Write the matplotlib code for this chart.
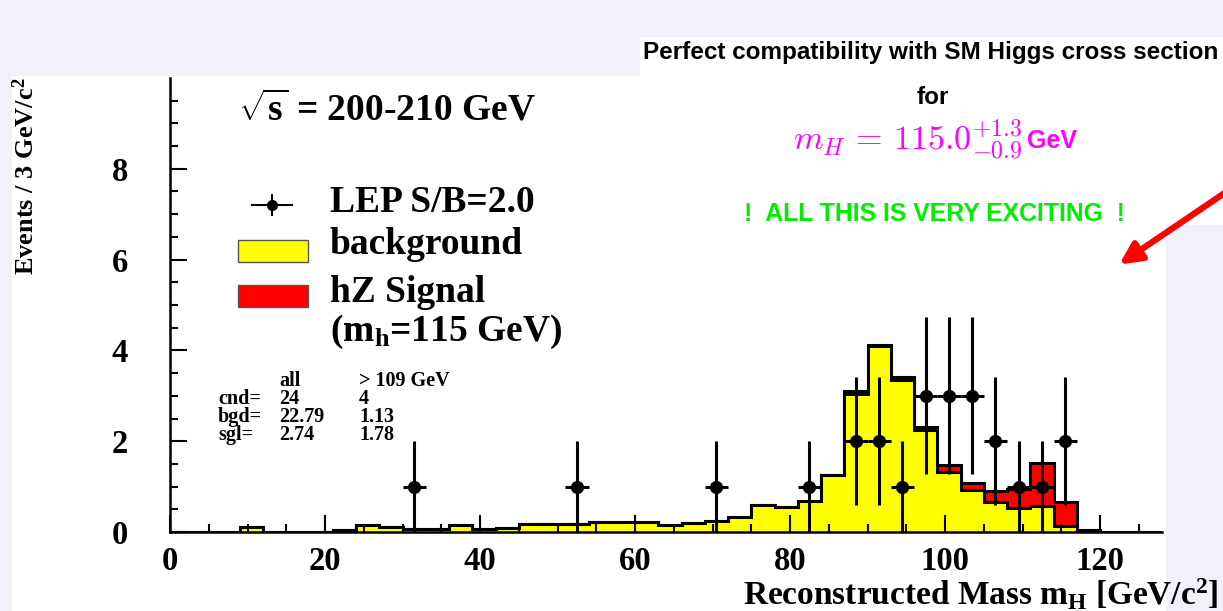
import numpy as np
import matplotlib
matplotlib.use("Agg")
import matplotlib.pyplot as plt
from matplotlib.patches import Rectangle, FancyArrowPatch
from matplotlib.lines import Line2D

# histogram binning: 3 GeV bins
bin_edges = np.arange(0, 130, 3)

# background expectation per bin
background = [0.00, 0.00, 0.00, 0.10, 0.00, 0.00, 0.00, 0.04, 0.15, 0.10,
              0.06, 0.07, 0.16, 0.07, 0.09, 0.18, 0.18, 0.18, 0.21, 0.21,
              0.21, 0.16, 0.20, 0.24, 0.33, 0.60, 0.55, 0.69, 1.25, 3.05,
              4.10, 3.35, 2.24, 1.33, 0.92, 0.67, 0.52, 0.57, 0.13, 0.02,
              0.01, 0.01, 0.01]

# hZ signal (m_h = 115 GeV) per bin
signal = [0.0] * 29 + [0.05, 0.02, 0.06, 0.07, 0.14, 0.16, 0.24, 0.43,
                       0.94, 0.54, 0.02, 0.0, 0.0, 0.0]

# candidates (bin centres and counts)
data_x = [31.5, 52.5, 70.5, 82.5, 88.5, 91.5, 94.5, 97.5, 100.5, 103.5,
          106.5, 109.5, 112.5, 115.5]
data_n = [1, 1, 1, 1, 2, 2, 1, 3, 3, 3, 2, 1, 1, 2]

x_ticks = [0, 20, 40, 60, 80, 100, 120]
y_ticks = [0, 2, 4, 6, 8]

W, H = 1223, 611
SERIF = "Liberation Serif"
SANS = "Liberation Sans"

plt.rcParams["mathtext.fontset"] = "custom"
plt.rcParams["mathtext.rm"] = SERIF + ":bold"
plt.rcParams["mathtext.it"] = SERIF + ":bold"
plt.rcParams["mathtext.bf"] = SERIF + ":bold"


def fx(px):
    return px / W


def fy(py):
    return 1 - py / H


lavender = "#f1f1f9"
fig = plt.figure(figsize=(W / 100, H / 100), dpi=100, facecolor=lavender)

# white slide panels
fig.patches.append(Rectangle((fx(12), fy(611)), fx(1166) - fx(12), fy(76) - fy(611),
                             transform=fig.transFigure, facecolor="white",
                             edgecolor="none", zorder=-10))
fig.patches.append(Rectangle((fx(640), fy(225)), fx(1223) - fx(640), fy(37) - fy(225),
                             transform=fig.transFigure, facecolor="white",
                             edgecolor="none", zorder=-10))

ax = fig.add_axes([fx(170), fy(532), fx(1162) - fx(170), fy(78) - fy(532)])
ax.set_facecolor("none")

bg = np.array(background)
tot = bg + np.array(signal)
ax.stairs(tot, bin_edges, fill=True, facecolor="#ff0000", edgecolor="none")
ax.stairs(tot, bin_edges, color="black", linewidth=2.2)
ax.stairs(bg, bin_edges, fill=True, facecolor="#ffff00", edgecolor="none")
ax.stairs(bg, bin_edges, color="black", linewidth=2.2)

n = np.array(data_n, dtype=float)
ax.errorbar(data_x, n, yerr=np.sqrt(n), xerr=1.5, fmt="o", color="black",
            markersize=8.5, elinewidth=2.2, capsize=0, zorder=5)

ax.set_xlim(0, 128)
ax.set_ylim(0, 10)
ax.set_xticks(x_ticks)
ax.set_yticks(y_ticks)
ax.set_xticks(np.arange(0, 128, 5), minor=True)
ax.set_yticks(np.arange(0, 10, 0.5), minor=True)
ax.tick_params(which="both", direction="in", width=1.5, color="black",
               top=False, right=False)
ax.tick_params(which="major", length=12)
ax.tick_params(which="minor", length=6)
ax.tick_params(axis="x", which="major", pad=10)
ax.tick_params(axis="y", which="major", pad=36)
for lab in ax.get_xticklabels() + ax.get_yticklabels():
    lab.set_fontfamily(SERIF)
    lab.set_fontweight("bold")
    lab.set_fontsize(23.5)
for lab in ax.get_yticklabels():
    lab.set_horizontalalignment("center")
for s in ["top", "right"]:
    ax.spines[s].set_visible(False)
for s in ["left", "bottom"]:
    ax.spines[s].set_linewidth(1.8)

# axis titles
fig.text(fx(26), fy(78), "Events / 3 GeV/c$^{\\rm 2}$", rotation=90,
         ha="center", va="top", fontsize=19, family=SERIF, weight="bold")
fig.text(fx(1218), fy(605), "Reconstructed Mass m$_{\\rm H}$ [GeV/c$^{\\rm 2}$]",
         ha="right", va="baseline", fontsize=24, family=SERIF, weight="bold")

# sqrt(s) label
fig.text(fx(238), fy(110), "$\\sqrt{\\rm s}$ = 200-210 GeV", ha="left", va="center",
         fontsize=27, family=SERIF, weight="bold")

# legend
fig.lines.append(Line2D([fx(252), fx(292)], [fy(205), fy(205)], color="black",
                        lw=1.5, transform=fig.transFigure))
fig.lines.append(Line2D([fx(272), fx(272)], [fy(195), fy(215)], color="black",
                        lw=1.5, transform=fig.transFigure))
fig.lines.append(Line2D([fx(272)], [fy(205)], color="black", marker="o",
                        markersize=7, transform=fig.transFigure))
fig.text(fx(330), fy(203), "LEP S/B=2.0", ha="left", va="center",
         fontsize=27, family=SERIF, weight="bold")
fig.patches.append(Rectangle((fx(238), fy(262)), fx(308) - fx(238), fy(240) - fy(262),
                             transform=fig.transFigure, facecolor="#ffff00",
                             edgecolor="#555555", lw=1))
fig.text(fx(330), fy(245), "background", ha="left", va="center",
         fontsize=27, family=SERIF, weight="bold")
fig.patches.append(Rectangle((fx(238), fy(307)), fx(308) - fx(238), fy(285) - fy(307),
                             transform=fig.transFigure, facecolor="#ff0000",
                             edgecolor="#555555", lw=1))
fig.text(fx(330), fy(293), "hZ Signal", ha="left", va="center",
         fontsize=27, family=SERIF, weight="bold")
fig.text(fx(330), fy(332), "(m$_{\\rm h}$=115 GeV)", ha="left", va="center",
         fontsize=27, family=SERIF, weight="bold")

# event counts table
rows = [("", "all", "> 109 GeV"),
        ("cnd=", "24", "4"),
        ("bgd=", "22.79", "1.13"),
        ("sgl=", "2.74", "1.78")]
for i, (a, b, c) in enumerate(rows):
    yy = fy(381 + i * 18)
    for xx, t in zip([218, 279, 359], [a, b, c]):
        fig.text(fx(xx), yy, t, ha="left", va="center", fontsize=14.5,
                 family=SERIF, weight="bold")

# slide annotations
fig.text(fx(931), fy(53), "Perfect compatibility with SM Higgs cross section",
         ha="center", va="center", fontsize=17.5, family=SANS, weight="bold")
fig.text(fx(933), fy(97), "for", ha="center", va="center", fontsize=17.5,
         family=SANS, weight="bold")
fig.text(fx(1022), fy(140), "$m_H\\,=\\,115.0^{+1.3}_{-0.9}$", ha="right",
         va="center", fontsize=24.5, color="#ff00ff", math_fontfamily="cm")
fig.text(fx(1027), fy(141), "GeV", ha="left", va="center", fontsize=18,
         color="#ff00ff", family=SANS, weight="bold")
fig.text(fx(935), fy(214), "!  ALL THIS IS VERY EXCITING  !", ha="center",
         va="center", fontsize=17.8, color="#00ee00", family=SANS, weight="bold")

arrow = FancyArrowPatch((fx(1226), fy(192)), (fx(1117), fy(266)),
                        transform=fig.transFigure, arrowstyle="-|>",
                        mutation_scale=32, color="#ff0000", lw=4.5)
fig.patches.append(arrow)

fig.savefig("out.png", dpi=100, facecolor=lavender)
